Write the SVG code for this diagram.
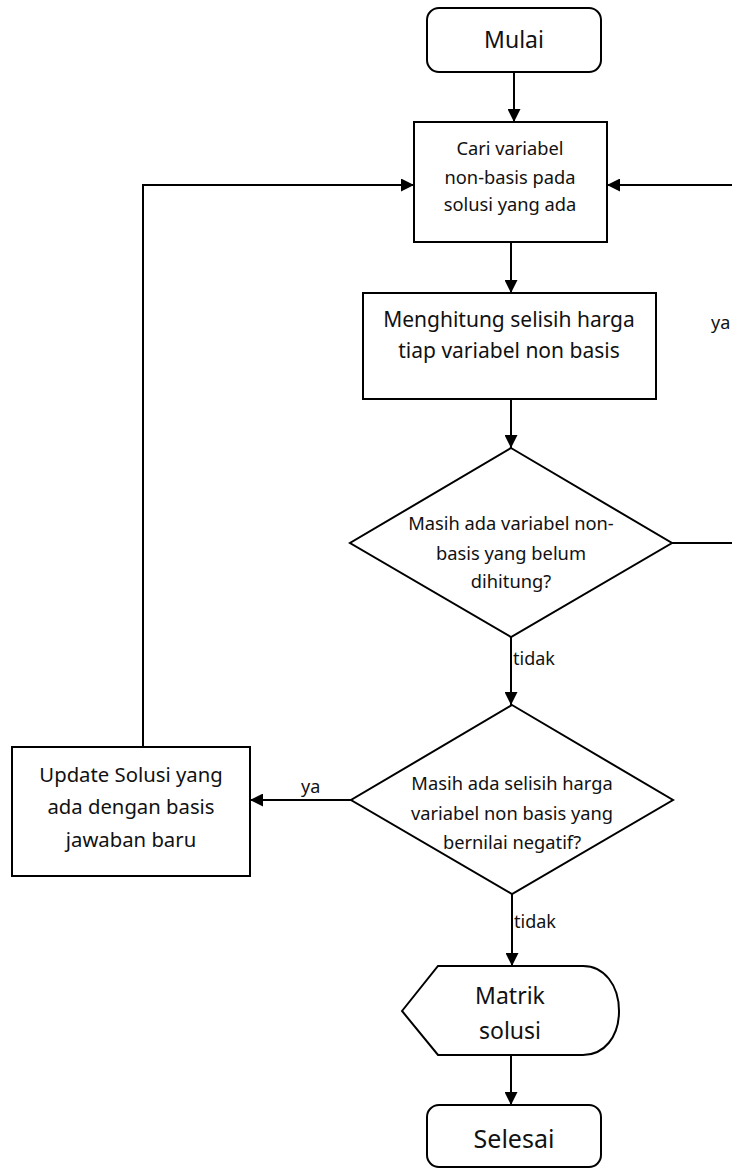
<svg xmlns="http://www.w3.org/2000/svg" width="732" height="1168" viewBox="0 0 732 1168">
<style>
.s{fill:#fff;stroke:#000;stroke-width:2}
.c{fill:none;stroke:#000;stroke-width:2}
text{font-family:"Noto Sans","Open Sans","Liberation Sans",sans-serif;fill:#111;text-anchor:middle}
.t21{font-size:21px}
.t20{font-size:20.3px}
.t18{font-size:18.3px}
.l{text-anchor:start;font-size:18px}
</style>
<defs>
<marker id="ah" viewBox="0 0 13 13" refX="13" refY="6.5" markerWidth="13" markerHeight="13" markerUnits="userSpaceOnUse" orient="auto">
<path d="M0,0 L13,6.5 L0,13 Z" fill="#000"/>
</marker>
</defs>
<rect width="732" height="1168" fill="#fff"/>
<g id="connectors">
<line class="c" x1="514" y1="72" x2="514" y2="122" marker-end="url(#ah)"/>
<line class="c" x1="511" y1="242" x2="511" y2="293" marker-end="url(#ah)"/>
<line class="c" x1="511" y1="399" x2="511" y2="448" marker-end="url(#ah)"/>
<line class="c" x1="511" y1="637" x2="511" y2="705" marker-end="url(#ah)"/>
<line class="c" x1="512" y1="894" x2="512" y2="966" marker-end="url(#ah)"/>
<line class="c" x1="511" y1="1055" x2="511" y2="1105" marker-end="url(#ah)"/>
<path class="c" d="M672,543 H745 V185 H607" marker-end="url(#ah)"/>
<line class="c" x1="351" y1="800" x2="250" y2="800" marker-end="url(#ah)"/>
<path class="c" d="M143,747 V185 H414" marker-end="url(#ah)"/>
<text class="l" x="711" y="329">ya</text>
<text class="l" x="513" y="665">tidak</text>
<text class="l" x="301" y="793">ya</text>
<text class="l" x="514" y="928">tidak</text>
</g>
<g id="mulai">
<rect class="s" x="427" y="8" width="174" height="64" rx="12"/>
<text x="514" y="48" style="font-size:23px">Mulai</text>
</g>
<g id="cari">
<rect class="s" x="414" y="122" width="193" height="120"/>
<text class="t18" x="510" y="155">Cari variabel</text>
<text class="t18" x="510" y="184">non-basis pada</text>
<text class="t18" x="510" y="211">solusi yang ada</text>
</g>
<g id="menghitung">
<rect class="s" x="363" y="293" width="293" height="106"/>
<text class="t21" x="509" y="327">Menghitung selisih harga</text>
<text class="t21" x="509" y="358">tiap variabel non basis</text>
</g>
<g id="cek1">
<polygon class="s" points="511,448 672,543 511,637 350,543"/>
<text class="t18" x="511" y="530">Masih ada variabel non-</text>
<text class="t18" x="511" y="560">basis yang belum</text>
<text class="t18" x="511" y="588">dihitung?</text>
</g>
<g id="cek2">
<polygon class="s" points="512,705 673,800 512,894 351,800"/>
<text class="t18" x="512" y="790">Masih ada selisih harga</text>
<text class="t18" x="512" y="820">variabel non basis yang</text>
<text class="t18" x="512" y="849">bernilai negatif?</text>
</g>
<g id="update">
<rect class="s" x="12" y="747" width="238" height="129"/>
<text class="t20" x="131" y="782">Update Solusi yang</text>
<text class="t20" x="131" y="814">ada dengan basis</text>
<text class="t20" x="131" y="847">jawaban baru</text>
</g>
<g id="matrik">
<path class="s" d="M402,1011 L438,966 H583 C604,966 619,985 619,1011 C619,1037 604,1055 583,1055 H438 Z"/>
<text x="510" y="1004" style="font-size:23px">Matrik</text>
<text x="510" y="1039" style="font-size:23px">solusi</text>
</g>
<g id="selesai">
<rect class="s" x="427" y="1105" width="174" height="62" rx="12"/>
<text x="514" y="1148" style="font-size:25px">Selesai</text>
</g>
</svg>
